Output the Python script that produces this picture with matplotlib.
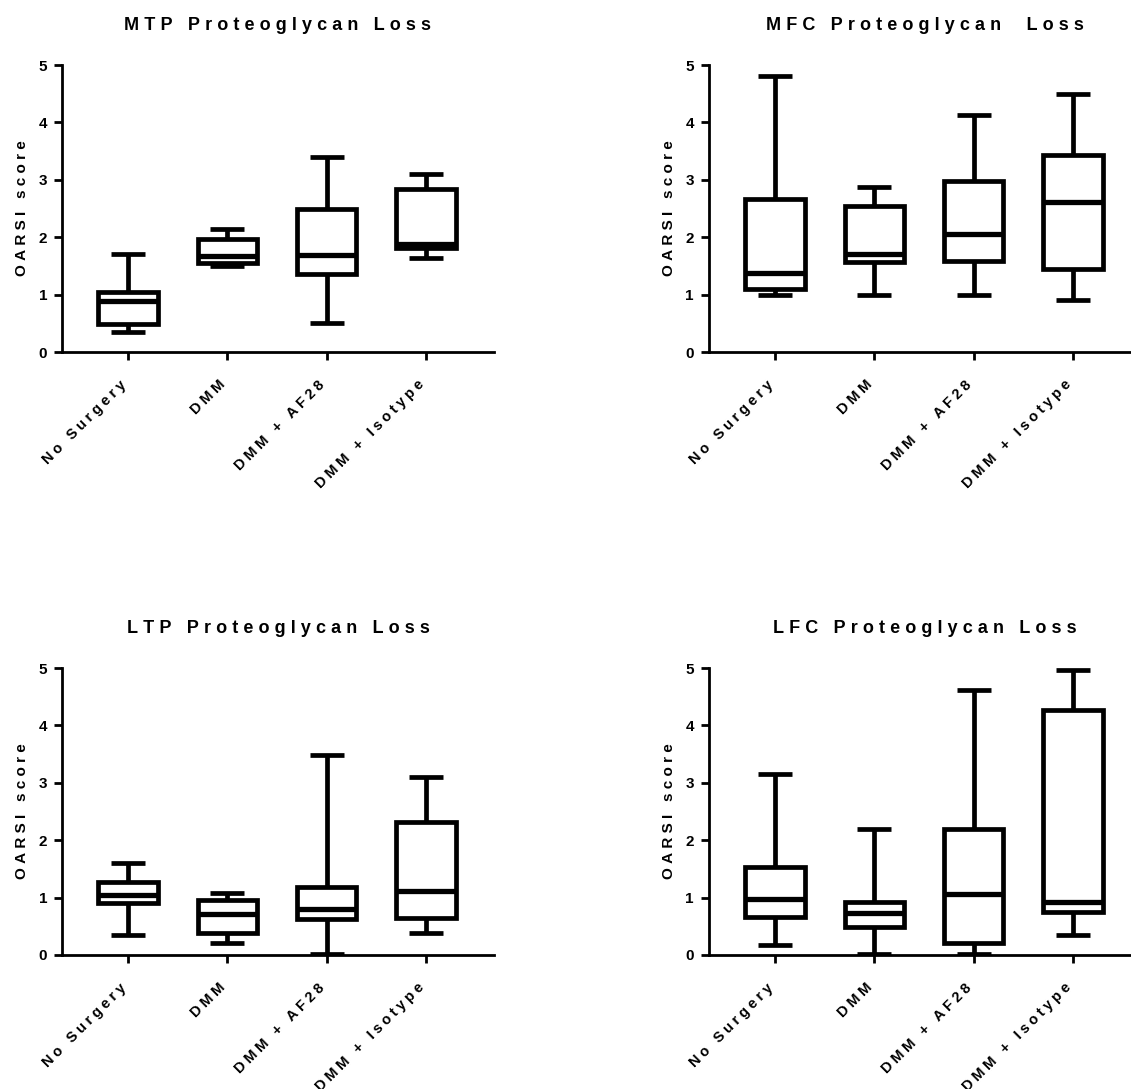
import matplotlib
matplotlib.use("Agg")
import matplotlib.pyplot as plt
from matplotlib.transforms import ScaledTranslation

# Группы по оси X (одинаковые для всех панелей)
groups = ["No Surgery", "DMM", "DMM + AF28", "DMM + Isotype"]

# MTP: min, Q1, медиана, Q3, max
mtp_whislo = [0.34, 1.50, 0.50, 1.64]
mtp_q1 = [0.49, 1.55, 1.36, 1.82]
mtp_med = [0.88, 1.67, 1.69, 1.88]
mtp_q3 = [1.04, 1.97, 2.49, 2.84]
mtp_whishi = [1.71, 2.15, 3.39, 3.10]

# MFC
mfc_whislo = [1.00, 1.00, 1.00, 0.90]
mfc_q1 = [1.10, 1.56, 1.59, 1.45]
mfc_med = [1.37, 1.71, 2.05, 2.61]
mfc_q3 = [2.67, 2.54, 2.98, 3.43]
mfc_whishi = [4.81, 2.88, 4.13, 4.50]

# LTP
ltp_whislo = [0.34, 0.21, 0.02, 0.39]
ltp_q1 = [0.90, 0.39, 0.63, 0.64]
ltp_med = [1.05, 0.72, 0.81, 1.12]
ltp_q3 = [1.28, 0.96, 1.19, 2.32]
ltp_whishi = [1.60, 1.08, 3.49, 3.10]

# LFC
lfc_whislo = [0.18, 0.02, 0.02, 0.34]
lfc_q1 = [0.67, 0.48, 0.21, 0.75]
lfc_med = [0.98, 0.73, 1.07, 0.92]
lfc_q3 = [1.54, 0.92, 2.19, 4.26]
lfc_whishi = [3.16, 2.19, 4.62, 4.97]

y_ticks = [0, 1, 2, 3, 4, 5]

FONT = ["Liberation Sans", "DejaVu Sans"]
plt.rcParams["font.family"] = FONT
plt.rcParams["font.weight"] = "bold"
LW = 3.4
GAP = "\u2009\u200a"      # для заголовков и подписи оси Y
TICK_GAP = "\u2005"       # для подписей групп


def spaced(text, gap=GAP):
    # разрядка букв, как в GraphPad
    return gap.join(text)


def box_panel(fig, ax, title, whislo, q1, med, q3, whishi):
    stats = []
    for i, name in enumerate(groups):
        stats.append(dict(label=name, whislo=whislo[i], q1=q1[i], med=med[i],
                          q3=q3[i], whishi=whishi[i]))
    ax.bxp(
        stats,
        positions=[1, 2, 3, 4],
        widths=0.6,
        capwidths=0.34,
        showfliers=False,
        patch_artist=True,
        boxprops=dict(facecolor="white", edgecolor="black", linewidth=LW,
                      joinstyle="miter"),
        medianprops=dict(color="black", linewidth=LW + 0.4, solid_capstyle="butt"),
        whiskerprops=dict(color="black", linewidth=LW, solid_capstyle="butt"),
        capprops=dict(color="black", linewidth=LW, solid_capstyle="butt"),
    )
    ax.set_xlim(0.335, 4.685)
    ax.set_ylim(0, 5)
    ax.set_yticks(y_ticks)
    ax.set_yticklabels([str(t) for t in y_ticks], fontsize=11, fontweight="bold")
    ax.set_xticks([1, 2, 3, 4])
    ax.set_xticklabels([spaced(g, TICK_GAP) for g in groups], rotation=45,
                       ha="right", va="top", rotation_mode="anchor",
                       fontsize=10.5, fontweight="bold")
    ax.tick_params(axis="both", width=2.0, length=5.8, color="black")
    ax.tick_params(axis="x", pad=9)
    ax.tick_params(axis="y", pad=5)
    # сдвиг подписей групп влево-вниз (после tick_params, иначе сбросится)
    shift = ScaledTranslation(-0.09, -0.05, fig.dpi_scale_trans)
    for tick in ax.xaxis.get_major_ticks():
        tick.label1.set_transform(tick.label1.get_transform() + shift)
    for side in ("top", "right"):
        ax.spines[side].set_visible(False)
    for side in ("left", "bottom"):
        ax.spines[side].set_linewidth(2.0)
    ax.set_ylabel(spaced("OARSI score"), fontsize=11, fontweight="bold", labelpad=7)
    ax.set_title(title, fontsize=13, fontweight="bold", pad=25)


fig = plt.figure(figsize=(11.31, 10.89), dpi=100)

W, H = 1131, 1089
ax_w, ax_h = 432 / W, 287 / H
ax1 = fig.add_axes([62 / W, 1 - 352 / H, ax_w, ax_h])
ax2 = fig.add_axes([709 / W, 1 - 352 / H, ax_w, ax_h])
ax3 = fig.add_axes([62 / W, 1 - 955 / H, ax_w, ax_h])
ax4 = fig.add_axes([709 / W, 1 - 955 / H, ax_w, ax_h])

box_panel(fig, ax1, spaced("MTP Proteoglycan Loss"),
          mtp_whislo, mtp_q1, mtp_med, mtp_q3, mtp_whishi)
box_panel(fig, ax2, spaced("MFC Proteoglycan  Loss"),
          mfc_whislo, mfc_q1, mfc_med, mfc_q3, mfc_whishi)
box_panel(fig, ax3, spaced("LTP Proteoglycan Loss"),
          ltp_whislo, ltp_q1, ltp_med, ltp_q3, ltp_whishi)
box_panel(fig, ax4, spaced("LFC Proteoglycan Loss"),
          lfc_whislo, lfc_q1, lfc_med, lfc_q3, lfc_whishi)

fig.savefig("out.png", dpi=100, facecolor="white")
plt.close(fig)
